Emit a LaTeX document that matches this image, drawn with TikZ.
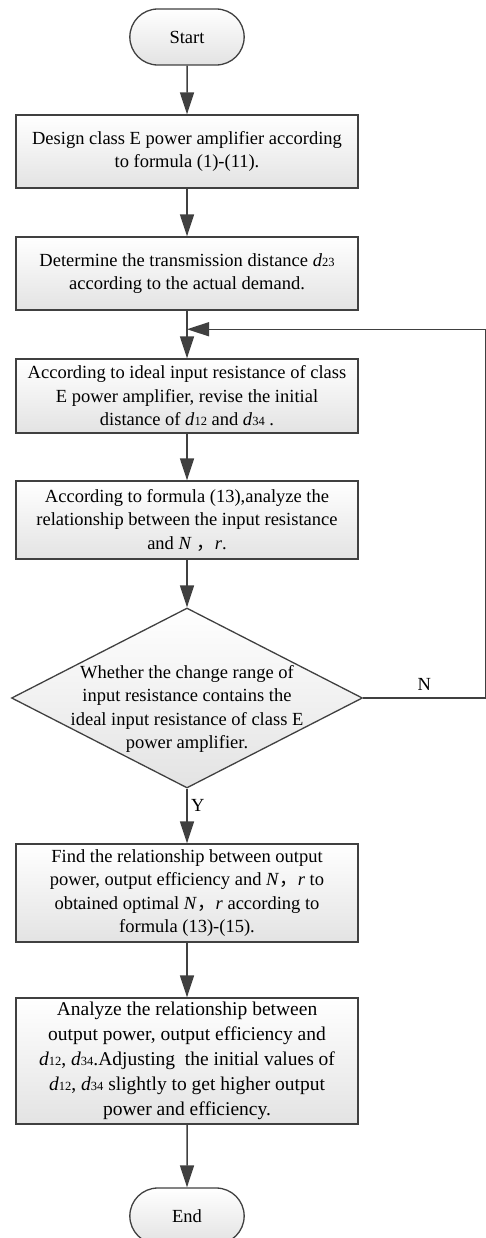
\documentclass[tikz,border=0pt]{standalone}
\usepackage{fontspec}
\setmainfont{Liberation Serif}
\newfontfamily\cjk{Noto Sans CJK SC}
\usetikzlibrary{arrows.meta,shapes.geometric,shapes.misc,positioning,calc}

\definecolor{flowline}{HTML}{404040}
\newcommand{\dd}[1]{\textit{d}{\fontsize{12.5}{12.5}\selectfont #1}}
\newcommand{\zhcomma}{{\cjk ，}}

\tikzset{
  proc/.style={rectangle, draw=flowline, line width=1.3pt, top color=white, bottom color=gray!22,
               minimum width=342pt, align=center, inner sep=1pt},
  term/.style={rounded rectangle, draw=flowline, line width=1.3pt, top color=white, bottom color=gray!22,
               minimum width=121pt, minimum height=56pt},
  decision/.style={diamond, draw=flowline, line width=1.3pt, top color=white, bottom color=gray!22,
               minimum width=351pt, minimum height=180pt, inner sep=0pt}
}

\begin{document}
\begin{tikzpicture}[>={Triangle[width=14pt,length=22pt]}, line width=1.5pt, draw=flowline,
                    font=\fontsize{18.5}{23.5}\selectfont]

    \useasboundingbox (0,0) rectangle (486pt,-1238pt);

    \node[term]                      (start)   at (187pt,-37pt)                         {Start};
    \node[proc, minimum height=73pt] (design)  [below of=start,  node distance=114.5pt] {Design class E power amplifier according\\to formula (1)-(11).};
    \node[proc, minimum height=73pt] (dist)    [below of=design, node distance=122pt]   {Determine the transmission distance \dd{23}\\according to the actual demand.};
    \node[proc, minimum height=74pt] (revise)  [below of=dist,   node distance=122.5pt] {According to ideal input resistance of class\\E power amplifier, revise the initial\\distance of \dd{12} and \dd{34} .};
    \node[proc, minimum height=78pt] (analyze) [below of=revise, node distance=124pt]   {According to formula (13),analyze the\\relationship between the input resistance\\and \textit{N} \zhcomma\textit{r}.};
    \node[decision, label={[align=center, yshift=-11pt]center:Whether the change range of\\input resistance contains the\\ideal input resistance of class E\\power amplifier.}]
                                     (check)   [below of=analyze, node distance=178pt]  {};
    \node[proc, minimum height=98pt] (optim)   [below of=check,  node distance=195pt]   {Find the relationship between output\\power, output efficiency and \textit{N}\zhcomma\textit{r} to\\obtained optimal \textit{N}\zhcomma\textit{r} according to\\formula (13)-(15).};
    \node[proc, minimum height=126pt, font=\fontsize{19.5}{25}\selectfont]
                                     (adjust)  [below of=optim,  node distance=168pt]   {Analyze the relationship between\\output power, output efficiency and\\\dd{12}, \dd{34}.Adjusting\ \ the initial values of\\\dd{12}, \dd{34} slightly to get higher output\\power and efficiency.};
    \node[term]                      (end)     [below of=adjust, node distance=155pt]   {End};

    \coordinate (merge) at ($(dist.south)!0.39!(revise.north)$);
    \coordinate (back)  at ($(check.east)+(122.5pt,0)$);

    \path[->]   (start)   edge   (design)
                (design)  edge   (dist)
                (dist)    edge   (revise)
                (revise)  edge   (analyze)
                (analyze) edge   (check)
                (check)   edge   node[right, pos=0.3]   {Y}   (optim)
                (optim)   edge   (adjust)
                (adjust)  edge   (end);

    \draw[->]   (check.east) -- node[above=3pt]   {N}   (back) |- (merge);

\end{tikzpicture}
\end{document}
